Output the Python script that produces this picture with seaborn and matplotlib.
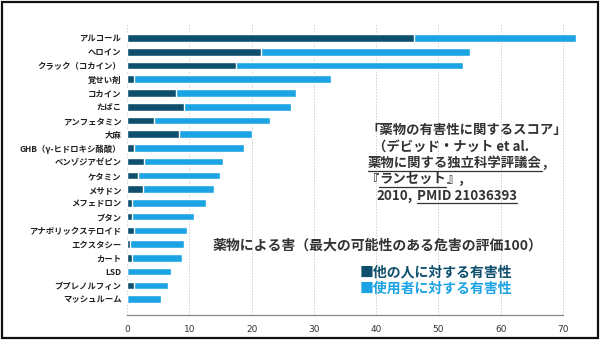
import matplotlib
matplotlib.use("Agg")
import matplotlib.pyplot as plt
from matplotlib.lines import Line2D
from matplotlib.patches import Rectangle
import seaborn as sns
import pandas as pd

drugs = ["アルコール", "ヘロイン", "クラック（コカイン）", "覚せい剤", "コカイン", "たばこ",
         "アンフェタミン", "大麻", "GHB（γ-ヒドロキシ酪酸）", "ベンゾジアゼピン", "ケタミン",
         "メサドン", "メフェドロン", "ブタン", "アナボリックステロイド", "エクスタシー",
         "カート", "LSD", "ブプレノルフィン", "マッシュルーム"]
harm_others = [46, 21.5, 17.5, 1.2, 7.8, 9.2, 4.3, 8.3, 1.2, 2.7, 1.7, 2.5, 0.8, 0.8,
               1.2, 0.5, 0.8, 0.0, 1.2, 0.0]
harm_total = [72, 55.1, 54, 32.8, 27.2, 26.3, 23, 20, 18.8, 15.4, 15, 13.9, 12.7, 10.7,
              9.6, 9.1, 8.9, 7.0, 6.6, 5.5]
xticks = [0, 10, 20, 30, 40, 50, 60, 70]

DARK = "#0f4f6e"
LIGHT = "#1ca3e3"
TXT = "#333333"

sns.set_theme(style="white")
plt.rcParams["font.family"] = ["Noto Sans CJK JP", "DejaVu Sans"]

df = pd.DataFrame({"drug": drugs, "others": harm_others, "total": harm_total})

W, H = 600, 340
fig = plt.figure(figsize=(6, 3.4), dpi=100)
fig.patch.set_facecolor("white")
ax = fig.add_axes([127 / W, 1 - 315 / H, 448.5 / W, 290 / H])

sns.barplot(data=df, x="total", y="drug", orient="h", color=LIGHT, width=0.55,
            saturation=1, ax=ax, zorder=3)
sns.barplot(data=df, x="others", y="drug", orient="h", color=DARK, width=0.55,
            saturation=1, ax=ax, zorder=4)

ax.set_xlim(0, 72)
ax.set_ylim(20.16, -0.95)
ax.set_xlabel("")
ax.set_ylabel("")
ax.set_xticks(xticks)
ax.set_xticklabels([str(v) for v in xticks], fontsize=6.5, color=TXT,
                   family="DejaVu Sans")
ax.tick_params(axis="x", direction="inout", length=5, width=0.8, color="#888888", pad=5)
ax.tick_params(axis="y", length=0, pad=4)
for lab in ax.get_yticklabels():
    lab.set_fontsize(6)
    lab.set_fontweight("bold")
    lab.set_color("#222222")
for v in xticks:
    ax.axvline(v, color="#cfcfcf", lw=0.7, ls=(0, (1.5, 1.5)), zorder=1)
for s in ["top", "right", "left"]:
    ax.spines[s].set_visible(False)
ax.spines["bottom"].set_color("#888888")
ax.spines["bottom"].set_linewidth(0.9)
ax.spines["bottom"].set_bounds(0, 70)

fig.add_artist(Rectangle((2 / W, 2 / H), 596 / W, 336 / H, transform=fig.transFigure,
                         fill=False, edgecolor="#111111", lw=1.6))

fig.canvas.draw()
renderer = fig.canvas.get_renderer()


def seg_line(x, y, segments, size, color):
    """Place text segments one after another; underline those flagged."""
    for s, ul, gap in segments:
        x += gap
        t = fig.text(x / W, 1 - y / H, s, fontsize=size, fontweight="bold", color=color,
                     va="center", ha="left", transform=fig.transFigure)
        bb = t.get_window_extent(renderer)
        if ul:
            yy = bb.y0 - 0.5
            fig.add_artist(Line2D([bb.x0 / W, bb.x1 / W], [yy / H, yy / H],
                                  transform=fig.transFigure, color=color, lw=0.9))
        x = bb.x1


fs = 9.6
seg_line(366, 130, [("「薬物の有害性に関するスコア」", False, 0)], fs, TXT)
seg_line(373, 147, [("（デビッド・ナット et al.", False, 0)], fs, TXT)
seg_line(368, 163, [("薬物に関する独立科学評議会", True, 0), (",", False, 0)], fs, TXT)
seg_line(366, 179, [("『", False, 0), ("ランセット", True, 0), ("』,", False, 0)], fs, TXT)
seg_line(376, 196, [("2010,", False, 0), ("PMID 21036393", True, 5)], fs, TXT)

fig.text(213 / W, 1 - 246 / H, "薬物による害（最大の可能性のある危害の評価100）",
         fontsize=10, fontweight="bold", color=TXT, va="center", ha="left")
fig.text(360 / W, 1 - 272 / H, "■他の人に対する有害性", fontsize=10, fontweight="bold",
         color=DARK, va="center", ha="left")
fig.text(360 / W, 1 - 289 / H, "■使用者に対する有害性", fontsize=10, fontweight="bold",
         color=LIGHT, va="center", ha="left")

fig.savefig("out.png", dpi=100)
